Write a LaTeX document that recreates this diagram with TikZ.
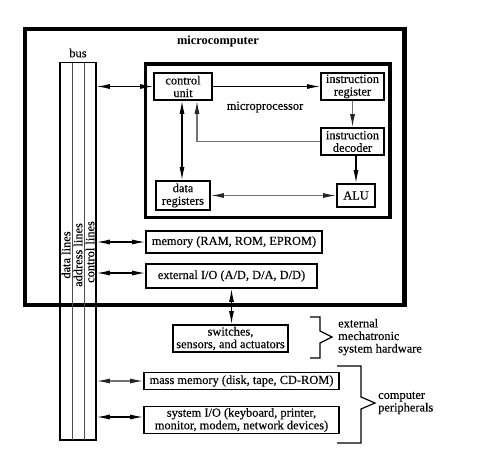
\documentclass[tikz,border=0pt]{standalone}
\usepackage{fontspec}
\setmainfont{Liberation Serif}[UprightFeatures={FakeBold=0.2}]
\usetikzlibrary{arrows.meta}
\newcommand\lbl{\fontsize{12.4}{12.6}\selectfont}
\tikzset{
  blk/.style={draw, line width=1.8pt, inner sep=0pt, align=center, font=\lbl},
  txt/.style={inner sep=0pt, align=left, font=\lbl},
  con/.style={line width=1.1pt},
  dbl/.style={con, {Latex[length=13pt,width=5pt]}-{Latex[length=13pt,width=5pt]}},
  sgl/.style={con, -{Latex[length=13pt,width=5pt]}},
  gdbl/.style={con, draw=black!55, {Latex[length=13pt,width=5pt,color=black!85]}-{Latex[length=13pt,width=5pt,color=black!85]}},
  gsgl/.style={con, draw=black!55, -{Latex[length=13pt,width=5pt,color=black!85]}},
}
\begin{document}
\begin{tikzpicture}[x=1pt,y=-1pt]
\useasboundingbox (0,0) rectangle (478,458);
% outer boxes
\draw[line width=4.3pt] (25,29) rectangle (404.5,305);
\node[font=\lbl\bfseries, inner sep=0pt] (mct) at (218,42) {microcomputer};
\draw[line width=3.5pt] (145.5,64) rectangle (390,217.5);
\node[font=\lbl, inner sep=0pt] (mpt) at (265,107) {microprocessor};
% bus
\node[draw, line width=1.5pt, minimum width=36pt, minimum height=377.3pt, inner sep=0pt] (bus) at (78,251.35) {};
\draw[line width=0.8pt, black!70] (72,62.7) -- (72,440);
\draw[line width=0.8pt, black!70] (84.3,62.7) -- (84.3,440);
\node[font=\lbl, inner sep=0pt] (bust) at (78,53) {bus};
\node[font=\lbl, inner sep=0pt, rotate=90] (dl) at (66,255) {data lines};
\node[font=\lbl, inner sep=0pt, rotate=90] (al) at (78,255) {address lines};
\node[font=\lbl, inner sep=0pt, rotate=90] (cl) at (90,252) {control lines};
% blocks
\node[blk, minimum width=58pt, minimum height=27pt] (cu) at (183,86.5) {control\\unit};
\node[blk, minimum width=63pt, minimum height=27pt] (ir) at (352.5,86.5) {instruction\\register};
\node[blk, minimum width=63pt, minimum height=27pt] (id) at (352.5,141.5) {instruction\\decoder};
\node[blk, minimum width=38pt, minimum height=23pt] (alu) at (356,195.5) {ALU};
\node[blk, minimum width=54pt, minimum height=29pt] (dr) at (183,195.5) {data\\registers};
\node[blk, minimum width=176pt, minimum height=22pt] (mem) at (234,242) {memory (RAM, ROM, EPROM)};
\node[blk, minimum width=171pt, minimum height=24pt] (eio) at (231.5,276) {external I/O (A/D, D/A, D/D)};
\node[blk, minimum width=115pt, minimum height=27pt] (sw) at (230.5,338.5) {switches,\\sensors, and actuators};
\node[blk, minimum width=195pt, minimum height=17pt] (mm) at (241.5,381) {mass memory (disk, tape, CD-ROM)};
\node[blk, minimum width=195pt, minimum height=27pt] (sio) at (241.5,420) {system I/O (keyboard, printer,\\monitor, modem, network devices)};
% connectors
\draw[dbl] (cu.west -| bus.east) -- (cu.west);
\draw[sgl] (cu.east) -- (ir.west);
\draw[dbl] ([xshift=-1pt]cu.south) -- ([xshift=-1pt]dr.north);
\draw[gsgl] (id.west) -| ([xshift=14pt]cu.south);
\draw[gsgl] (ir.south) -- (id.north);
\draw[sgl] (alu.north |- id.south) -- (alu.north);
\draw[gdbl] (dr.east) -- (alu.west);
\draw[dbl] (mem.west -| bus.east) -- (mem.west);
\draw[dbl] ([yshift=3pt]eio.west -| bus.east) -- ([yshift=3pt]eio.west);
\draw[dbl] (eio.south) -- (eio.south |- sw.north);
\draw[gdbl] (mm.west -| bus.east) -- (mm.west);
\draw[dbl] ([yshift=3pt]sio.west -| bus.east) -- ([yshift=3pt]sio.west);
% braces
\draw[line width=1.2pt] (310,317) -- (320,317) -- (320,331) -- (332,337) -- (320,343) -- (320,358) -- (310,358);
\node[txt, anchor=west] (ext) at (338,337) {external\\mechatronic\\system hardware};
\draw[line width=1.2pt] (337,366) -- (361,366) -- (361,397) -- (375,403) -- (361,409) -- (361,443) -- (337,443);
\node[txt, anchor=west] (per) at (378,403) {computer\\peripherals};
\end{tikzpicture}
\end{document}
